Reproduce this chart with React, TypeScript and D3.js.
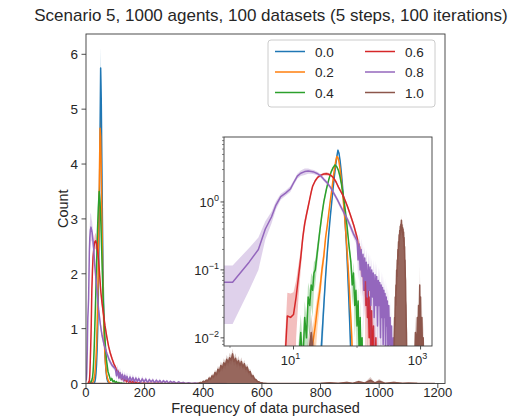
import React from 'react';
import * as d3 from 'd3';

const seriesLabels = ['0.0', '0.2', '0.4', '0.6', '0.8', '1.0'];
const seriesColors = ['#1f77b4', '#ff7f0e', '#2ca02c', '#d62728', '#9467bd', '#8c564b'];
const xTicks = [0, 200, 400, 600, 800, 1000, 1200];
const yTicks = [0, 1, 2, 3, 4, 5, 6];
const insetYTicks = [{ v: 1, e: '0' }, { v: 0.1, e: '−1' }, { v: 0.01, e: '−2' }];
const insetXTicks = [{ v: 10, e: '1' }, { v: 1000, e: '3' }];
const insetXMinor = [1, 100];

const blueX = [26, 28, 30, 32, 34, 36, 38, 40, 42, 44, 46, 48, 50, 52, 54, 56, 58, 60, 62, 65, 68, 71, 74, 77, 80, 83];
const blueY = [0.003, 0.01, 0.03, 0.08, 0.18, 0.35, 0.62, 1.0, 1.6, 2.4, 3.4, 4.6, 5.75, 5.2, 4.1, 3.0, 2.1, 1.45, 1.0, 0.5, 0.24, 0.1, 0.04, 0.015, 0.006, 0.002];
const blueErr = [0.003, 0.006, 0.012, 0.02, 0.03, 0.04, 0.06, 0.08, 0.12, 0.15, 0.2, 0.25, 0.38, 0.3, 0.25, 0.2, 0.15, 0.1, 0.08, 0.05, 0.03, 0.02, 0.012, 0.008, 0.005, 0.002];

const orangeX = [18, 20, 22, 24, 26, 28, 30, 32, 34, 36, 38, 40, 43, 46, 48, 50, 52, 54, 57, 60, 63, 66, 70, 74, 78, 82, 85, 88];
const orangeY = [0.002, 0.008, 0.015, 0.03, 0.05, 0.1, 0.16, 0.3, 0.45, 0.7, 1.05, 1.5, 2.6, 3.9, 4.65, 4.5, 3.9, 3.1, 2.0, 1.2, 0.7, 0.4, 0.18, 0.08, 0.03, 0.012, 0.005, 0.002];
const orangeErr = [0.002, 0.006, 0.01, 0.015, 0.02, 0.03, 0.04, 0.05, 0.06, 0.07, 0.08, 0.1, 0.15, 0.2, 0.22, 0.2, 0.18, 0.15, 0.1, 0.08, 0.05, 0.04, 0.02, 0.015, 0.01, 0.006, 0.004, 0.002];

const greenX = [11, 12, 13, 14, 15, 16, 17, 18, 19, 20, 21, 22, 24, 26, 28, 30, 33, 36, 39, 42, 45, 48, 51, 54, 57, 60, 63, 66, 70, 75, 80, 84, 88, 92, 96, 100, 104, 108, 112, 116, 120, 126, 132];
const greenY = [0.001, 0.004, 0.012, 0.004, 0.02, 0.01, 0.04, 0.03, 0.06, 0.05, 0.09, 0.1, 0.2, 0.38, 0.65, 1.0, 1.55, 2.15, 2.75, 3.2, 3.5, 3.3, 2.9, 2.35, 1.8, 1.35, 0.98, 0.7, 0.42, 0.22, 0.13, 0.06, 0.09, 0.03, 0.05, 0.015, 0.035, 0.006, 0.02, 0.003, 0.01, 0.001, 0.003];
const greenErr = [0.001, 0.004, 0.01, 0.004, 0.015, 0.01, 0.025, 0.02, 0.03, 0.03, 0.04, 0.04, 0.06, 0.08, 0.1, 0.12, 0.14, 0.15, 0.15, 0.15, 0.12, 0.15, 0.15, 0.12, 0.1, 0.08, 0.07, 0.06, 0.04, 0.03, 0.03, 0.03, 0.04, 0.02, 0.03, 0.012, 0.02, 0.005, 0.015, 0.003, 0.008, 0.001, 0.003];

const redX = [7, 8, 9, 10, 11, 12, 13, 14, 15, 16, 17, 18, 19, 20, 22, 24, 27, 30, 33, 36, 39, 43, 47, 51, 55, 60, 65, 71, 77, 83, 89, 95, 102, 106, 110, 114, 118, 122, 126, 130, 134, 138, 142, 146, 150, 155, 160, 165, 170, 176, 182, 190, 198, 206, 215, 225, 240, 260];
const redY = [0.002, 0.021, 0.02, 0.022, 0.04, 0.08, 0.15, 0.3, 0.48, 0.65, 0.85, 1.1, 1.4, 1.7, 2.05, 2.3, 2.48, 2.58, 2.6, 2.55, 2.45, 2.25, 1.95, 1.65, 1.45, 1.25, 1.05, 0.85, 0.68, 0.55, 0.45, 0.36, 0.28, 0.18, 0.22, 0.12, 0.16, 0.08, 0.12, 0.05, 0.09, 0.03, 0.07, 0.02, 0.05, 0.01, 0.04, 0.005, 0.025, 0.003, 0.015, 0.002, 0.01, 0.001, 0.006, 0.0005, 0.003, 0.0002];
const redErr = [0.002, 0.025, 0.025, 0.025, 0.03, 0.04, 0.05, 0.07, 0.08, 0.09, 0.1, 0.1, 0.1, 0.1, 0.1, 0.1, 0.1, 0.12, 0.15, 0.12, 0.1, 0.1, 0.1, 0.09, 0.08, 0.08, 0.07, 0.06, 0.05, 0.05, 0.04, 0.04, 0.04, 0.04, 0.05, 0.04, 0.05, 0.04, 0.05, 0.03, 0.04, 0.03, 0.04, 0.02, 0.03, 0.01, 0.03, 0.005, 0.02, 0.003, 0.012, 0.002, 0.008, 0.001, 0.005, 0.0005, 0.003, 0.0002];

const purpleX = [0.5, 1.1, 2, 2.8, 3.6, 4.5, 5.3, 6.3, 7.5, 8.9, 10, 11.5, 13, 15, 17, 19, 21, 24, 27, 30, 34, 38, 43, 49, 55, 62, 71, 80, 89, 100,
  104, 108, 112, 116, 120, 124, 128, 132, 136, 140, 145, 150, 155, 160, 165, 170, 175, 180, 186, 192, 198, 204, 210, 216, 222, 228, 234, 240, 246,
  252, 258, 264, 270, 276, 282, 288, 294, 300, 308, 316, 324, 332, 340, 350, 360, 372, 385, 400, 420, 450, 480];
const purpleY = [0.066, 0.066, 0.13, 0.2, 0.4, 0.6, 0.9, 1.2, 1.35, 1.55, 1.9, 2.4, 2.65, 2.8, 2.85, 2.8, 2.75, 2.6, 2.4, 2.15, 1.9, 1.65, 1.35, 1.08, 0.87, 0.7, 0.55, 0.42, 0.33, 0.27,
  0.14, 0.24, 0.1, 0.2, 0.08, 0.17, 0.05, 0.15, 0.07, 0.13, 0.04, 0.12, 0.05, 0.11, 0.03, 0.1, 0.04, 0.09, 0.02, 0.085, 0.03, 0.08, 0.015, 0.07, 0.03, 0.065, 0.01, 0.06, 0.02,
  0.055, 0.008, 0.05, 0.02, 0.045, 0.006, 0.04, 0.015, 0.035, 0.004, 0.03, 0.008, 0.02, 0.002, 0.015, 0.001, 0.01, 0.0005, 0.006, 0.0003, 0.003, 0.0002];
const purpleErr = [0.05, 0.05, 0.08, 0.1, 0.12, 0.12, 0.12, 0.12, 0.12, 0.15, 0.15, 0.2, 0.25, 0.3, 0.25, 0.2, 0.2, 0.15, 0.15, 0.12, 0.12, 0.1, 0.1, 0.08, 0.07, 0.06, 0.05, 0.05, 0.04, 0.04,
  0.07, 0.1, 0.06, 0.09, 0.05, 0.08, 0.04, 0.07, 0.05, 0.07, 0.03, 0.06, 0.04, 0.06, 0.03, 0.05, 0.03, 0.05, 0.02, 0.05, 0.025, 0.045, 0.015, 0.04, 0.025, 0.04, 0.01, 0.035, 0.02,
  0.035, 0.008, 0.03, 0.02, 0.03, 0.006, 0.025, 0.015, 0.02, 0.004, 0.02, 0.008, 0.015, 0.002, 0.012, 0.001, 0.008, 0.0005, 0.005, 0.0003, 0.003, 0.0002];

const brownX = [14, 16, 19, 22, 25,
  375, 380, 385, 390, 395, 400, 405, 410, 415, 420, 425, 430, 435, 440, 445, 450, 455, 460, 465, 470, 475, 480, 485, 490, 495,
  500, 505, 510, 515, 520, 525, 530, 535, 540, 545, 550, 555, 560, 565, 570, 575, 580, 585, 590, 595, 600, 605, 610, 620,
  650, 700, 760, 800, 830, 860, 890, 910, 930, 950, 970, 985, 1000, 1020, 1050, 1080, 1100, 1130, 1160, 1190];
const brownY = [0, 0.003, 0.012, 0.003, 0,
  0.002, 0.005, 0.01, 0.02, 0.015, 0.04, 0.03, 0.06, 0.05, 0.1, 0.08, 0.14, 0.12, 0.2, 0.16, 0.26, 0.22, 0.33, 0.28, 0.38, 0.33, 0.44, 0.38, 0.47, 0.42,
  0.54, 0.4, 0.46, 0.36, 0.42, 0.33, 0.4, 0.3, 0.36, 0.26, 0.3, 0.2, 0.22, 0.13, 0.14, 0.08, 0.07, 0.035, 0.03, 0.015, 0.012, 0.006, 0.005, 0.002,
  0.001, 0.0005, 0.001, 0.003, 0.012, 0.004, 0.02, 0.006, 0.03, 0.008, 0.06, 0.01, 0.04, 0.006, 0.02, 0.004, 0.01, 0.003, 0.002, 0.0005];
const brownErr = [0, 0.003, 0.01, 0.003, 0,
  0.002, 0.004, 0.006, 0.01, 0.01, 0.02, 0.015, 0.025, 0.02, 0.035, 0.03, 0.04, 0.04, 0.05, 0.05, 0.06, 0.06, 0.07, 0.06, 0.08, 0.07, 0.08, 0.07, 0.09, 0.08,
  0.1, 0.08, 0.09, 0.07, 0.08, 0.07, 0.08, 0.06, 0.07, 0.06, 0.06, 0.05, 0.05, 0.04, 0.04, 0.03, 0.025, 0.015, 0.012, 0.008, 0.006, 0.004, 0.003, 0.002,
  0.001, 0.0005, 0.001, 0.003, 0.01, 0.004, 0.015, 0.005, 0.025, 0.006, 0.06, 0.008, 0.04, 0.005, 0.015, 0.004, 0.008, 0.003, 0.002, 0.0005];

const FONT = "'Liberation Sans', Arial, Helvetica, sans-serif";
const TXT = '#262626';
const AX = '#3a3a3a';

type S = { label: string; color: string; x: number[]; y: number[]; e: number[]; fill?: boolean };

export default function App() {
  const series: S[] = [
    { label: seriesLabels[0], color: seriesColors[0], x: blueX, y: blueY, e: blueErr },
    { label: seriesLabels[1], color: seriesColors[1], x: orangeX, y: orangeY, e: orangeErr },
    { label: seriesLabels[2], color: seriesColors[2], x: greenX, y: greenY, e: greenErr },
    { label: seriesLabels[3], color: seriesColors[3], x: redX, y: redY, e: redErr },
    { label: seriesLabels[4], color: seriesColors[4], x: purpleX, y: purpleY, e: purpleErr },
    { label: seriesLabels[5], color: seriesColors[5], x: brownX, y: brownY, e: brownErr, fill: true },
  ];

  const M = { l: 86, r: 445, t: 34, b: 383.5 };
  const xM = d3.scaleLinear().domain([-2, 1224.5]).range([85.4, 445]);
  const yM = d3.scaleLinear().domain([0, 6.37]).range([M.b, M.t]);

  const I = { l: 224, r: 432, t: 137, b: 346 };
  const xI = d3.scaleLog().domain([Math.pow(10, -0.094), Math.pow(10, 3.18)]).range([I.l, I.r]);
  const yI = d3.scaleLog().domain([Math.pow(10, -2.12), Math.pow(10, 0.956)]).range([I.b, I.t]);
  const floor = 1e-4;

  const paths = (s: S, fx: (v: number) => number, fy: (v: number) => number, lo: number) => {
    const idx = d3.range(s.x.length);
    const line = d3.line<number>().x(i => fx(s.x[i])).y(i => fy(Math.max(s.y[i], lo)))(idx) || '';
    const band = d3.area<number>().x(i => fx(s.x[i]))
      .y0(i => fy(Math.max(s.y[i] - s.e[i], lo)))
      .y1(i => fy(Math.max(s.y[i] + s.e[i], lo)))(idx) || '';
    const fill = s.fill ? (d3.area<number>().x(i => fx(s.x[i])).y0(() => fy(lo)).y1(i => fy(Math.max(s.y[i], lo)))(idx) || '') : '';
    return { line, band, fill };
  };

  const yMinor: number[] = [];
  for (let d = -3; d <= 0; d++) for (let k = 2; k <= 9; k++) {
    const v = k * Math.pow(10, d);
    if (v > yI.domain()[0] && v < yI.domain()[1]) yMinor.push(v);
  }

  const legendRows = [0, 1, 2];
  const TL = 4.5;

  return (
    <svg width={523} height={419} style={{ position: 'absolute', left: 0, top: 0, display: 'block' }} fontFamily={FONT}>
      <defs>
        <clipPath id="clipMain"><rect x={M.l} y={M.t} width={M.r - M.l} height={M.b - M.t} /></clipPath>
        <clipPath id="clipInset"><rect x={I.l} y={I.t} width={I.r - I.l} height={I.b - I.t} /></clipPath>
      </defs>
      <rect x={0} y={0} width={523} height={419} fill="#fff" />
      <text x={271} y={21} textAnchor="middle" fontSize={17} fill={TXT}>Scenario 5, 1000 agents, 100 datasets (5 steps, 100 iterations)</text>

      <g clipPath="url(#clipMain)">
        {series.map(s => {
          const p = paths(s, xM, yM, 0);
          return (
            <g key={'m' + s.label}>
              {s.fill && <path d={p.fill} fill={s.color} opacity={0.9} />}
              <path d={p.band} fill={s.color} opacity={0.3} />
              <path d={p.line} fill="none" stroke={s.color} strokeWidth={1.5} strokeLinejoin="round" />
            </g>
          );
        })}
      </g>
      <rect x={M.l} y={M.t} width={M.r - M.l} height={M.b - M.t} fill="none" stroke={AX} strokeWidth={0.9} />

      {xTicks.map(t => (
        <g key={'xt' + t}>
          <line x1={xM(t)} x2={xM(t)} y1={M.b} y2={M.b + TL} stroke={AX} strokeWidth={0.9} />
          <text x={xM(t)} y={M.b + 13} textAnchor="middle" fontSize={13} fill={TXT}>{t}</text>
        </g>
      ))}
      {yTicks.map(t => (
        <g key={'yt' + t}>
          <line x1={M.l - TL} x2={M.l} y1={yM(t)} y2={yM(t)} stroke={AX} strokeWidth={0.9} />
          <text x={M.l - 8} y={yM(t) + 5} textAnchor="end" fontSize={13.5} fill={TXT}>{t}</text>
        </g>
      ))}
      <text x={265.5} y={412.5} textAnchor="middle" fontSize={14.5} fill={TXT}>Frequency of data purchased</text>
      <text transform={`translate(68,${(M.t + M.b) / 2}) rotate(-90)`} textAnchor="middle" fontSize={14.5} fill={TXT}>Count</text>

      <g>
        <rect x={268} y={40} width={167} height={67} rx={3} fill="#fff" fillOpacity={0.8} stroke="#cccccc" strokeWidth={1} />
        {series.map((s, i) => {
          const col = Math.floor(i / 3);
          const row = legendRows[i % 3];
          const x0 = 275 + col * 90;
          const y0 = 51.5 + row * 20.5;
          return (
            <g key={'lg' + s.label}>
              <line x1={x0} x2={x0 + 30} y1={y0} y2={y0} stroke={s.color} strokeWidth={1.5} />
              <text x={x0 + 40} y={y0 + 5} fontSize={13.5} fill={TXT}>{s.label}</text>
            </g>
          );
        })}
      </g>

      <rect x={I.l} y={I.t} width={I.r - I.l} height={I.b - I.t} fill="#fff" />
      <g clipPath="url(#clipInset)">
        {series.map(s => {
          const p = paths(s, xI, yI, floor);
          return (
            <g key={'i' + s.label}>
              {s.fill && <path d={p.fill} fill={s.color} opacity={0.9} />}
              <path d={p.band} fill={s.color} opacity={0.3} />
              <path d={p.line} fill="none" stroke={s.color} strokeWidth={1.5} strokeLinejoin="round" />
            </g>
          );
        })}
      </g>
      <rect x={I.l} y={I.t} width={I.r - I.l} height={I.b - I.t} fill="none" stroke={AX} strokeWidth={0.9} />
      {insetYTicks.map(t => (
        <g key={'iy' + t.v}>
          <line x1={I.l - 3.5} x2={I.l} y1={yI(t.v)} y2={yI(t.v)} stroke={AX} strokeWidth={0.9} />
          <text x={I.l - 5} y={yI(t.v) + 5} textAnchor="end" fontSize={13} fill={TXT}>
            10<tspan dy={-6} fontSize={9}>{t.e}</tspan>
          </text>
        </g>
      ))}
      {yMinor.map(v => (
        <line key={'iym' + v} x1={I.l - 2} x2={I.l} y1={yI(v)} y2={yI(v)} stroke={AX} strokeWidth={0.6} />
      ))}
      {insetXTicks.map(t => (
        <g key={'ix' + t.v}>
          <line x1={xI(t.v)} x2={xI(t.v)} y1={I.b} y2={I.b + 3.5} stroke={AX} strokeWidth={0.9} />
          <text x={xI(t.v) - 3} y={I.b + 19} textAnchor="middle" fontSize={13} fill={TXT}>
            10<tspan dy={-6} fontSize={9}>{t.e}</tspan>
          </text>
        </g>
      ))}
      {insetXMinor.map(v => (
        <line key={'ixm' + v} x1={xI(v)} x2={xI(v)} y1={I.b} y2={I.b + 2} stroke={AX} strokeWidth={0.6} />
      ))}
    </svg>
  );
}
